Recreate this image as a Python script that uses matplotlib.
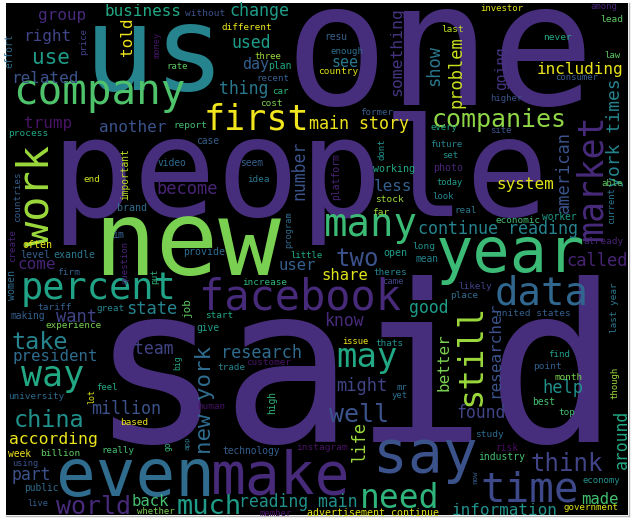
import matplotlib
matplotlib.use("Agg")
import matplotlib.pyplot as plt
from matplotlib.patches import Rectangle

words = [
    "said", "one", "people", "new", "us", "even", "make", "say", "year",
    "company", "facebook", "first", "work", "percent", "many", "time", "data",
    "market", "still", "need", "may", "way", "companies", "much", "world",
    "well", "think", "two", "take", "china", "new york", "use",
    "business", "group", "right", "related", "told", "trump", "another",
    "main story", "number", "become", "less", "user", "share",
    "continue reading", "called", "good", "system", "american", "york times",
    "problem", "going", "including", "something", "show", "change", "used",
    "day", "see", "thing", "researcher", "better", "found", "help", "around",
    "made", "information", "back", "part", "according", "million",
    "president", "team", "research", "might", "life", "reading main", "state",
    "want", "come", "know",
    "without", "effort", "price", "money", "rate", "report", "process", "case",
    "video", "important", "end", "seem", "idea", "cost", "former", "platform",
    "dont", "working", "stock", "far", "little", "program", "question", "im",
    "provide", "exandle", "put", "firm", "increase", "theres", "came", "open",
    "long", "mean", "economic", "worker", "real", "look", "today", "photo",
    "already", "current", "able", "likely", "place", "united states",
    "last year", "study", "risk", "industry", "though", "find", "point",
    "month", "best", "top", "economy", "government", "now", "whether", "live",
    "public", "using", "week", "billion", "really", "go", "app", "human",
    "lot", "feel", "university", "based", "big", "trade", "customer", "mr",
    "yet", "high", "instagram", "technology", "member",
    "advertisement continue", "job", "great", "tariff", "making",
    "experience", "give", "start", "often", "level", "countries", "create",
    "women", "brand", "issue", "thats", "different", "three", "plan",
    "recent", "car", "resu", "enough", "country", "investor", "among", "lead",
    "last", "never", "law", "consumer", "higher", "every", "site", "future",
    "set",
]
weights = [
    220, 172, 138, 104, 118, 66, 58, 58, 62,
    41, 42, 35, 42, 37, 39, 41, 39,
    35, 34, 33, 34, 35, 25, 27, 25,
    25, 24, 24, 23.5, 23.5, 22.5, 21,
    16, 16, 16, 16, 16, 16, 16,
    16.6, 16.5, 17, 16, 15.5, 15.5,
    16.6, 17, 16.5, 16, 17, 18,
    17, 14.5, 16, 16.4, 17, 16.6, 16.5,
    15, 15, 16.5, 16, 16, 16.5, 17, 16.5,
    15.6, 16, 15.6, 16.5, 16.4, 16.6,
    15.8, 16.5, 16.8, 17, 17, 16.5, 17,
    17, 16, 16.5,
    9.5, 9.7, 9, 8.7, 9, 9.4, 9.5, 9.6,
    9.7, 9.6, 9.4, 9.6, 9.3, 9.4, 9.2, 9.8,
    9, 10, 9.5, 9.5, 9, 8.6, 9, 10,
    10, 10, 8.5, 9.5, 9.4, 9.4, 9, 10,
    9.5, 9.6, 9.4, 9.7, 9.3, 9, 8.8, 10,
    9.5, 8.8, 9, 9.4, 9.4, 9.5,
    9.4, 9.5, 9.6, 9.8, 9, 9.2, 9.5,
    9.4, 9.6, 9.3, 9, 9.2, 7.5, 9, 8.6,
    9.7, 8.7, 9.6, 9.5, 9.2, 8, 7.5, 9.4,
    8.3, 9, 9.3, 9.4, 8, 9.3, 9.4, 9,
    9, 9.6, 9.5, 9.6, 9,
    9.9, 11, 9.4, 9.5, 9.7,
    9.3, 9.6, 9.4, 10, 10, 9.4, 9.2,
    10, 10, 8.8, 9.4, 9.4, 9, 9.8,
    9.2, 9.2, 9.6, 9.2, 9.5, 9, 9, 9.5,
    9.4, 9.5, 9, 9, 9, 9, 9, 9,
    9,
]

# layout of the cloud: word -> (x centre, y centre, vertical, viridis shade)
layout = {
    "said": (354, 358, 0, 0.13), "one": (440, 58, 0, 0.13),
    "people": (300, 180, 0, 0.13), "new": (187, 246, 0, 0.80),
    "us": (155, 58, 0, 0.45), "even": (136, 478, 0, 0.35),
    "make": (281, 471, 0, 0.12), "say": (425, 463, 0, 0.25),
    "year": (511, 262, 0, 0.68), "company": (99, 98, 0, 0.72),
    "facebook": (300, 294, 0, 0.12), "first": (256, 116, 0, 0.98),
    "work": (33, 196, 1, 0.85), "percent": (99, 290, 0, 0.58),
    "many": (371, 230, 0, 0.68), "time": (530, 486, 0, 0.22),
    "data": (542, 290, 0, 0.33), "market": (588, 178, 1, 0.12),
    "still": (468, 355, 1, 0.85), "need": (400, 495, 0, 0.65),
    "may": (367, 362, 0, 0.60), "way": (53, 381, 0, 0.60),
    "companies": (499, 121, 0, 0.83), "much": (209, 504, 0, 0.55),
    "world": (93, 504, 0, 0.12), "well": (359, 413, 0, 0.25),
    "think": (567, 462, 0, 0.20), "two": (357, 258, 0, 0.25),
    "take": (40, 340, 0, 0.45), "china": (49, 418, 0, 0.50),
    "new york": (205, 400, 1, 0.35), "use": (51, 58, 0, 0.55),
    "business": (143, 10, 0, 0.60), "group": (62, 18, 0, 0.12),
    "right": (47, 37, 0, 0.20), "related": (45, 77, 0, 0.25),
    "told": (126, 37, 1, 0.97), "trump": (48, 124, 0, 0.05),
    "another": (133, 126, 0, 0.25), "main story": (359, 125, 0, 0.97),
    "number": (298, 170, 1, 0.25), "become": (187, 188, 0, 0.10),
    "less": (393, 185, 0, 0.30), "user": (297, 266, 0, 0.30),
    "share": (345, 274, 0, 0.95), "continue reading": (498, 230, 0, 0.45),
    "called": (597, 260, 0, 0.10), "good": (429, 309, 0, 0.55),
    "system": (525, 185, 0, 0.95), "american": (562, 172, 1, 0.25),
    "york times": (615, 133, 1, 0.45), "problem": (457, 72, 1, 0.92),
    "going": (502, 68, 1, 0.15), "including": (580, 70, 0, 0.97),
    "something": (397, 52, 1, 0.15), "show": (433, 65, 1, 0.40),
    "change": (259, 12, 0, 0.55), "used": (251, 42, 0, 0.55),
    "day": (256, 65, 0, 0.30), "see": (345, 63, 0, 0.40),
    "thing": (244, 90, 0, 0.40), "researcher": (493, 350, 1, 0.25),
    "better": (442, 362, 1, 0.80), "found": (481, 412, 0, 0.20),
    "help": (563, 389, 0, 0.50), "around": (621, 439, 1, 0.60),
    "made": (600, 498, 0, 0.70), "information": (505, 509, 0, 0.50),
    "back": (150, 500, 0, 0.70), "part": (31, 476, 0, 0.25),
    "according": (53, 440, 0, 0.97), "million": (126, 408, 0, 0.25),
    "president": (55, 357, 0, 0.35), "team": (154, 348, 0, 0.20),
    "research": (262, 352, 0, 0.35), "might": (362, 387, 0, 0.20),
    "life": (358, 442, 1, 0.85), "reading main": (298, 503, 0, 0.50),
    "state": (152, 308, 0, 0.45), "want": (77, 316, 0, 0.20),
    "come": (37, 265, 0, 0.10), "know": (344, 320, 0, 0.12),
    "without": (205, 12, 0, 0.25), "effort": (9, 51, 1, 0.35),
    "price": (84, 42, 1, 0.20), "money": (158, 45, 1, 0.05),
    "rate": (177, 66, 0, 0.75), "report": (190, 126, 0, 0.70),
    "process": (28, 135, 0, 0.60), "case": (208, 141, 0, 0.30),
    "video": (172, 162, 0, 0.35), "important": (126, 174, 1, 0.90),
    "end": (92, 178, 0, 0.92), "seem": (252, 163, 0, 0.30),
    "idea": (258, 178, 0, 0.40), "cost": (271, 103, 0, 0.80),
    "former": (377, 112, 0, 0.30), "platform": (337, 176, 1, 0.10),
    "dont": (381, 149, 1, 0.50), "working": (394, 169, 0, 0.60),
    "stock": (389, 198, 0, 0.85), "far": (381, 211, 0, 0.85),
    "little": (306, 255, 0, 0.60), "program": (290, 230, 1, 0.35),
    "question": (125, 262, 1, 0.10), "im": (118, 234, 0, 0.30),
    "provide": (204, 252, 0, 0.35), "exandle": (74, 254, 0, 0.40),
    "put": (155, 276, 1, 0.65), "firm": (69, 271, 0, 0.30),
    "increase": (265, 281, 0, 0.65), "theres": (390, 271, 0, 0.45),
    "came": (393, 282, 0, 0.20), "open": (395, 254, 0, 0.55),
    "long": (424, 247, 0, 0.50), "mean": (427, 259, 0, 0.45),
    "economic": (518, 219, 0, 0.70), "worker": (559, 216, 0, 0.55),
    "real": (466, 209, 0, 0.40), "look": (443, 196, 0, 0.45),
    "today": (450, 183, 0, 0.55), "photo": (448, 168, 0, 0.10),
    "already": (603, 242, 0, 0.10), "current": (611, 206, 1, 0.40),
    "able": (612, 183, 0, 0.75), "likely": (475, 287, 0, 0.20),
    "place": (464, 296, 0, 0.35), "united states": (533, 312, 0, 0.30),
    "last year": (615, 308, 1, 0.40), "study": (489, 435, 0, 0.35),
    "risk": (507, 447, 0, 0.03), "industry": (502, 457, 0, 0.70),
    "though": (615, 383, 1, 0.85), "find": (559, 354, 0, 0.55),
    "point": (548, 367, 0, 0.30), "month": (569, 376, 0, 0.80),
    "best": (544, 401, 0, 0.70), "top": (567, 413, 0, 0.70),
    "economy": (601, 482, 0, 0.50), "government": (591, 508, 0, 0.95),
    "now": (475, 477, 1, 0.30), "whether": (156, 511, 0, 0.80),
    "live": (38, 503, 0, 0.30), "public": (41, 488, 0, 0.35),
    "using": (25, 464, 0, 0.25), "week": (20, 453, 0, 0.98),
    "billion": (60, 452, 0, 0.75), "really": (118, 451, 0, 0.70),
    "go": (169, 446, 1, 0.65), "app": (188, 443, 1, 0.40),
    "human": (211, 405, 0, 0.05), "lot": (91, 397, 1, 0.95),
    "feel": (107, 387, 0, 0.60), "university": (36, 397, 0, 0.35),
    "based": (134, 421, 0, 0.97), "big": (178, 363, 1, 0.60),
    "trade": (231, 366, 0, 0.45), "customer": (269, 362, 0, 0.05),
    "mr": (402, 388, 0, 0.35), "yet": (400, 396, 0, 0.35),
    "high": (273, 403, 1, 0.65), "instagram": (322, 448, 0, 0.05),
    "technology": (251, 452, 0, 0.30), "member": (276, 513, 0, 0.05),
    "advertisement continue": (373, 512, 0, 0.95), "job": (187, 307, 1, 0.75),
    "great": (111, 309, 0, 0.45), "tariff": (55, 306, 0, 0.30),
    "making": (28, 316, 0, 0.30), "experience": (74, 326, 0, 0.80),
    "give": (208, 329, 0, 0.55), "start": (219, 315, 0, 0.60),
    "often": (37, 244, 0, 0.97), "level": (35, 254, 0, 0.30),
    "countries": (17, 197, 1, 0.30), "create": (12, 246, 1, 0.10),
    "women": (12, 285, 1, 0.35), "brand": (132, 207, 0, 0.35),
    "issue": (355, 341, 0, 0.97), "thats": (389, 342, 0, 0.50),
    "different": (247, 26, 0, 0.97), "three": (268, 56, 0, 0.85),
    "plan": (280, 66, 0, 0.60), "recent": (273, 78, 0, 0.30),
    "car": (280, 91, 0, 0.65), "resu": (336, 37, 0, 0.30),
    "enough": (347, 52, 0, 0.35), "country": (338, 72, 0, 0.95),
    "investor": (502, 8, 0, 0.95), "among": (604, 8, 0, 0.10),
    "lead": (612, 18, 0, 0.75), "last": (452, 28, 0, 0.90),
    "never": (557, 37, 0, 0.60), "law": (612, 55, 0, 0.75),
    "consumer": (577, 78, 0, 0.30), "higher": (506, 99, 0, 0.25),
    "every": (444, 129, 0, 0.60), "site": (501, 130, 0, 0.25),
    "future": (446, 144, 0, 0.45), "set": (450, 155, 0, 0.50),
}

W, H, DPI = 638, 520, 100


def ink_mid(word):
    # middle of the inked part of a word, in em units above the baseline
    top = 0.55
    if any(ch in "bdfhklij" for ch in word):
        top = 0.76
    elif "t" in word:
        top = 0.70
    bottom = -0.24 if any(ch in "gjpqy" for ch in word) else 0.0
    return (top + bottom) / 2


fig = plt.figure(figsize=(W / DPI, H / DPI), dpi=DPI)
ax = fig.add_axes([0, 0, 1, 1])
ax.set_xlim(0, W)
ax.set_ylim(H, 0)
ax.axis("off")

ax.add_patch(Rectangle((6, 3), 622, 512, facecolor="black", edgecolor="none"))
ax.plot([628.5, 628.5], [3, 515.5], color="#b8b8b8", lw=1)
ax.plot([6, 628.5], [515.5, 515.5], color="#b8b8b8", lw=1)

cmap = plt.get_cmap("viridis")
for word, em in zip(words, weights):
    x, y, vertical, shade = layout[word]
    off = ink_mid(word) * em
    if vertical:
        tx, ty, rot = x + off, y, 90
    else:
        tx, ty, rot = x, y + off, 0
    ax.text(tx, ty, word, fontsize=em * 72 / DPI, family="DejaVu Sans Mono",
            color=cmap(shade), rotation=rot, rotation_mode="anchor",
            ha="center", va="baseline")

fig.savefig("out.png", dpi=DPI)
